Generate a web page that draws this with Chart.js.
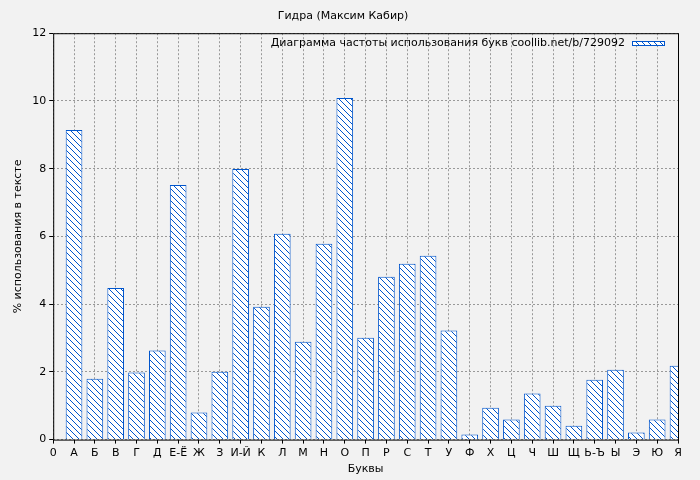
<!DOCTYPE html>
<html><head><meta charset="utf-8">
<script src="https://cdn.jsdelivr.net/npm/chart.js@4"></script>
<style>body{margin:0;background:#f2f2f2}#w{width:700px;height:480px}</style>
</head><body><div id="w"><canvas id="c"></canvas></div>
<script>
const letters=['0','А','Б','В','Г','Д','Е-Ё','Ж','З','И-Й','К','Л','М','Н','О','П','Р','С','Т','У','Ф','Х','Ц','Ч','Ш','Щ','Ь-Ъ','Ы','Э','Ю','Я'];
const values=[null,9.14,1.8,4.48,1.98,2.63,7.52,0.8,2.0,7.99,3.92,6.08,2.89,5.78,10.09,3.01,4.81,5.19,5.43,3.22,0.15,0.94,0.59,1.36,1.0,0.41,1.77,2.06,0.21,0.59,2.18];
const yTicks=[0,2,4,6,8,10,12];
const legendText='Диаграмма частоты использования букв coollib.net/b/729092';
function hatch(){const p=document.createElement('canvas');p.width=6;p.height=6;const g=p.getContext('2d');g.fillStyle='#fff';g.fillRect(0,0,6,6);g.strokeStyle='#0055cc';g.lineWidth=1;g.beginPath();g.moveTo(0,0);g.lineTo(6,6);g.moveTo(-3,3);g.lineTo(3,9);g.moveTo(3,-3);g.lineTo(9,3);g.stroke();return g.createPattern(p,'repeat');}
const pat=hatch();
const bgPlugin={id:'bg',beforeDraw(c){const x=c.ctx;x.save();x.fillStyle='#f2f2f2';x.fillRect(0,0,c.width,c.height);x.restore();},
afterDraw(c){const x=c.ctx,a=c.chartArea;x.save();x.strokeStyle='#000';x.lineWidth=1;x.strokeRect(a.left+.5,a.top+.5,a.right-a.left,a.bottom-a.top);
x.font='11px "DejaVu Sans"';x.fillStyle='#000';x.textAlign='right';x.textBaseline='middle';x.fillText(legendText,a.right-53,43);
x.fillStyle=pat;x.fillRect(a.right-46,41,32,4);x.strokeStyle='#0055cc';x.strokeRect(a.right-46+.5,41+.5,32,4);x.restore();}};
new Chart(document.getElementById('c'),{type:'bar',data:{labels:letters,datasets:[{data:values,backgroundColor:pat,borderColor:'#0055cc',borderWidth:1,barPercentage:0.8,categoryPercentage:1}]},
options:{responsive:true,maintainAspectRatio:false,animation:false,layout:{padding:{top:0,right:22,left:8,bottom:0}},
plugins:{legend:{display:false},tooltip:{enabled:false},title:{display:true,text:'Гидра (Максим Кабир)',color:'#000',font:{family:'DejaVu Sans',size:11,weight:'normal'},padding:{top:10,bottom:10}}},
scales:{x:{offset:false,grid:{offset:false,color:'#999',drawTicks:true,tickLength:4,tickColor:'#000'},border:{dash:[2,2],display:false},ticks:{color:'#000',font:{family:'DejaVu Sans',size:11},maxRotation:0,autoSkip:false},title:{display:true,text:'Буквы',color:'#000',font:{family:'DejaVu Sans',size:11},padding:{top:0}}},
y:{min:0,max:12,grid:{color:'#999',tickLength:4,tickColor:'#000'},border:{dash:[2,2],display:false},afterBuildTicks(s){s.ticks=yTicks.map(v=>({value:v}));},ticks:{color:'#000',font:{family:'DejaVu Sans',size:11}},title:{display:true,text:'% использования в тексте',color:'#000',font:{family:'DejaVu Sans',size:11}}}}},
plugins:[bgPlugin]});
</script></body></html>
